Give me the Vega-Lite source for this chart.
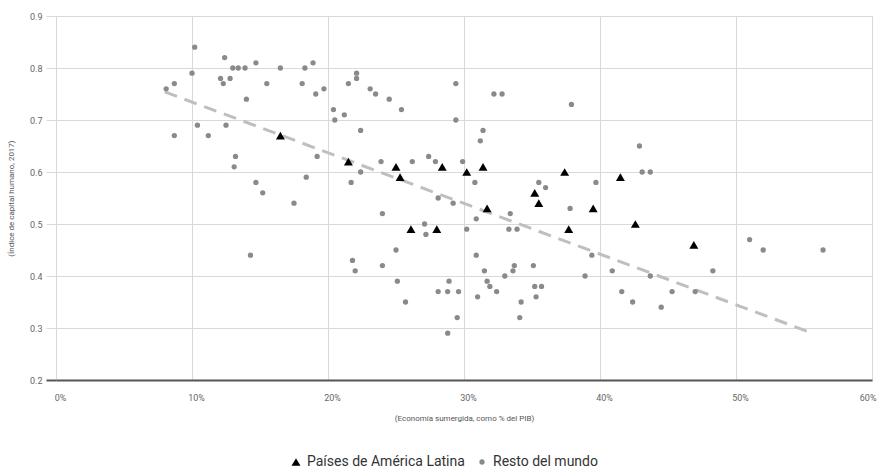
{
  "$schema": "https://vega.github.io/schema/vega-lite/v6.json",
  "width": 816,
  "height": 364,
  "autosize": {"type": "none"},
  "padding": {"left": 56, "top": 16, "right": 5, "bottom": 90},
  "background": "#ffffff",
  "config": {
    "font": "Roboto",
    "view": {"stroke": null},
    "axis": {
      "gridColor": "#d9d9d9",
      "gridWidth": 1,
      "labelFont": "Roboto",
      "labelFontSize": 9,
      "labelColor": "#666666",
      "titleFont": "Roboto",
      "titleFontSize": 8,
      "titleFontWeight": "normal",
      "titleColor": "#555555"
    }
  },
  "datasets": {
    "paises": [
      {"grupo": "Resto del mundo", "economia": 8.1, "capital": 0.76},
      {"grupo": "Resto del mundo", "economia": 8.7, "capital": 0.77},
      {"grupo": "Resto del mundo", "economia": 8.7, "capital": 0.67},
      {"grupo": "Resto del mundo", "economia": 10.2, "capital": 0.84},
      {"grupo": "Resto del mundo", "economia": 10.0, "capital": 0.79},
      {"grupo": "Resto del mundo", "economia": 10.4, "capital": 0.69},
      {"grupo": "Resto del mundo", "economia": 11.2, "capital": 0.67},
      {"grupo": "Resto del mundo", "economia": 12.4, "capital": 0.82},
      {"grupo": "Resto del mundo", "economia": 12.1, "capital": 0.78},
      {"grupo": "Resto del mundo", "economia": 12.3, "capital": 0.77},
      {"grupo": "Resto del mundo", "economia": 12.8, "capital": 0.78},
      {"grupo": "Resto del mundo", "economia": 13.0, "capital": 0.80},
      {"grupo": "Resto del mundo", "economia": 13.4, "capital": 0.80},
      {"grupo": "Resto del mundo", "economia": 13.9, "capital": 0.80},
      {"grupo": "Resto del mundo", "economia": 12.5, "capital": 0.69},
      {"grupo": "Resto del mundo", "economia": 13.2, "capital": 0.63},
      {"grupo": "Resto del mundo", "economia": 13.1, "capital": 0.61},
      {"grupo": "Resto del mundo", "economia": 14.0, "capital": 0.74},
      {"grupo": "Resto del mundo", "economia": 14.7, "capital": 0.81},
      {"grupo": "Resto del mundo", "economia": 14.7, "capital": 0.58},
      {"grupo": "Resto del mundo", "economia": 15.2, "capital": 0.56},
      {"grupo": "Resto del mundo", "economia": 15.5, "capital": 0.77},
      {"grupo": "Resto del mundo", "economia": 16.5, "capital": 0.80},
      {"grupo": "Resto del mundo", "economia": 14.3, "capital": 0.44},
      {"grupo": "Resto del mundo", "economia": 17.5, "capital": 0.54},
      {"grupo": "Resto del mundo", "economia": 18.3, "capital": 0.80},
      {"grupo": "Resto del mundo", "economia": 18.9, "capital": 0.81},
      {"grupo": "Resto del mundo", "economia": 18.1, "capital": 0.77},
      {"grupo": "Resto del mundo", "economia": 19.1, "capital": 0.75},
      {"grupo": "Resto del mundo", "economia": 19.7, "capital": 0.76},
      {"grupo": "Resto del mundo", "economia": 18.4, "capital": 0.59},
      {"grupo": "Resto del mundo", "economia": 19.2, "capital": 0.63},
      {"grupo": "Resto del mundo", "economia": 20.4, "capital": 0.72},
      {"grupo": "Resto del mundo", "economia": 20.5, "capital": 0.70},
      {"grupo": "Resto del mundo", "economia": 21.2, "capital": 0.71},
      {"grupo": "Resto del mundo", "economia": 21.5, "capital": 0.77},
      {"grupo": "Resto del mundo", "economia": 22.1, "capital": 0.79},
      {"grupo": "Resto del mundo", "economia": 22.1, "capital": 0.78},
      {"grupo": "Resto del mundo", "economia": 22.4, "capital": 0.68},
      {"grupo": "Resto del mundo", "economia": 21.7, "capital": 0.58},
      {"grupo": "Resto del mundo", "economia": 22.4, "capital": 0.60},
      {"grupo": "Resto del mundo", "economia": 23.1, "capital": 0.76},
      {"grupo": "Resto del mundo", "economia": 23.5, "capital": 0.75},
      {"grupo": "Resto del mundo", "economia": 24.5, "capital": 0.74},
      {"grupo": "Resto del mundo", "economia": 25.4, "capital": 0.72},
      {"grupo": "Resto del mundo", "economia": 23.9, "capital": 0.62},
      {"grupo": "Resto del mundo", "economia": 26.2, "capital": 0.62},
      {"grupo": "Resto del mundo", "economia": 27.4, "capital": 0.63},
      {"grupo": "Resto del mundo", "economia": 27.9, "capital": 0.62},
      {"grupo": "Resto del mundo", "economia": 28.1, "capital": 0.55},
      {"grupo": "Resto del mundo", "economia": 29.4, "capital": 0.77},
      {"grupo": "Resto del mundo", "economia": 29.4, "capital": 0.70},
      {"grupo": "Resto del mundo", "economia": 29.9, "capital": 0.62},
      {"grupo": "Resto del mundo", "economia": 30.8, "capital": 0.58},
      {"grupo": "Resto del mundo", "economia": 31.2, "capital": 0.66},
      {"grupo": "Resto del mundo", "economia": 31.4, "capital": 0.68},
      {"grupo": "Resto del mundo", "economia": 32.2, "capital": 0.75},
      {"grupo": "Resto del mundo", "economia": 32.8, "capital": 0.75},
      {"grupo": "Resto del mundo", "economia": 35.5, "capital": 0.58},
      {"grupo": "Resto del mundo", "economia": 36.0, "capital": 0.57},
      {"grupo": "Resto del mundo", "economia": 37.9, "capital": 0.73},
      {"grupo": "Resto del mundo", "economia": 42.9, "capital": 0.65},
      {"grupo": "Resto del mundo", "economia": 43.1, "capital": 0.60},
      {"grupo": "Resto del mundo", "economia": 43.7, "capital": 0.60},
      {"grupo": "Resto del mundo", "economia": 39.7, "capital": 0.58},
      {"grupo": "Resto del mundo", "economia": 24.0, "capital": 0.52},
      {"grupo": "Resto del mundo", "economia": 21.8, "capital": 0.43},
      {"grupo": "Resto del mundo", "economia": 22.0, "capital": 0.41},
      {"grupo": "Resto del mundo", "economia": 24.0, "capital": 0.42},
      {"grupo": "Resto del mundo", "economia": 25.0, "capital": 0.45},
      {"grupo": "Resto del mundo", "economia": 25.1, "capital": 0.39},
      {"grupo": "Resto del mundo", "economia": 25.7, "capital": 0.35},
      {"grupo": "Resto del mundo", "economia": 27.1, "capital": 0.50},
      {"grupo": "Resto del mundo", "economia": 27.2, "capital": 0.48},
      {"grupo": "Resto del mundo", "economia": 29.2, "capital": 0.54},
      {"grupo": "Resto del mundo", "economia": 28.1, "capital": 0.37},
      {"grupo": "Resto del mundo", "economia": 28.8, "capital": 0.37},
      {"grupo": "Resto del mundo", "economia": 28.9, "capital": 0.39},
      {"grupo": "Resto del mundo", "economia": 29.6, "capital": 0.37},
      {"grupo": "Resto del mundo", "economia": 28.8, "capital": 0.29},
      {"grupo": "Resto del mundo", "economia": 29.5, "capital": 0.32},
      {"grupo": "Resto del mundo", "economia": 30.9, "capital": 0.51},
      {"grupo": "Resto del mundo", "economia": 30.2, "capital": 0.49},
      {"grupo": "Resto del mundo", "economia": 30.9, "capital": 0.44},
      {"grupo": "Resto del mundo", "economia": 31.0, "capital": 0.36},
      {"grupo": "Resto del mundo", "economia": 31.5, "capital": 0.41},
      {"grupo": "Resto del mundo", "economia": 31.7, "capital": 0.39},
      {"grupo": "Resto del mundo", "economia": 31.9, "capital": 0.38},
      {"grupo": "Resto del mundo", "economia": 32.4, "capital": 0.37},
      {"grupo": "Resto del mundo", "economia": 33.4, "capital": 0.52},
      {"grupo": "Resto del mundo", "economia": 33.3, "capital": 0.49},
      {"grupo": "Resto del mundo", "economia": 33.9, "capital": 0.49},
      {"grupo": "Resto del mundo", "economia": 33.0, "capital": 0.40},
      {"grupo": "Resto del mundo", "economia": 33.6, "capital": 0.41},
      {"grupo": "Resto del mundo", "economia": 33.7, "capital": 0.42},
      {"grupo": "Resto del mundo", "economia": 34.2, "capital": 0.35},
      {"grupo": "Resto del mundo", "economia": 34.1, "capital": 0.32},
      {"grupo": "Resto del mundo", "economia": 35.1, "capital": 0.42},
      {"grupo": "Resto del mundo", "economia": 35.2, "capital": 0.38},
      {"grupo": "Resto del mundo", "economia": 35.3, "capital": 0.36},
      {"grupo": "Resto del mundo", "economia": 35.7, "capital": 0.38},
      {"grupo": "Resto del mundo", "economia": 37.8, "capital": 0.53},
      {"grupo": "Resto del mundo", "economia": 39.4, "capital": 0.44},
      {"grupo": "Resto del mundo", "economia": 38.9, "capital": 0.40},
      {"grupo": "Resto del mundo", "economia": 40.9, "capital": 0.41},
      {"grupo": "Resto del mundo", "economia": 41.6, "capital": 0.37},
      {"grupo": "Resto del mundo", "economia": 42.4, "capital": 0.35},
      {"grupo": "Resto del mundo", "economia": 43.7, "capital": 0.40},
      {"grupo": "Resto del mundo", "economia": 44.5, "capital": 0.34},
      {"grupo": "Resto del mundo", "economia": 45.3, "capital": 0.37},
      {"grupo": "Resto del mundo", "economia": 47.0, "capital": 0.37},
      {"grupo": "Resto del mundo", "economia": 48.3, "capital": 0.41},
      {"grupo": "Resto del mundo", "economia": 51.0, "capital": 0.47},
      {"grupo": "Resto del mundo", "economia": 52.0, "capital": 0.45},
      {"grupo": "Resto del mundo", "economia": 56.4, "capital": 0.45},
      {"grupo": "Países de América Latina", "economia": 16.5, "capital": 0.67},
      {"grupo": "Países de América Latina", "economia": 21.5, "capital": 0.62},
      {"grupo": "Países de América Latina", "economia": 25.0, "capital": 0.61},
      {"grupo": "Países de América Latina", "economia": 25.3, "capital": 0.59},
      {"grupo": "Países de América Latina", "economia": 26.1, "capital": 0.49},
      {"grupo": "Países de América Latina", "economia": 28.0, "capital": 0.49},
      {"grupo": "Países de América Latina", "economia": 28.4, "capital": 0.61},
      {"grupo": "Países de América Latina", "economia": 30.2, "capital": 0.60},
      {"grupo": "Países de América Latina", "economia": 31.4, "capital": 0.61},
      {"grupo": "Países de América Latina", "economia": 31.7, "capital": 0.53},
      {"grupo": "Países de América Latina", "economia": 35.2, "capital": 0.56},
      {"grupo": "Países de América Latina", "economia": 35.5, "capital": 0.54},
      {"grupo": "Países de América Latina", "economia": 37.4, "capital": 0.60},
      {"grupo": "Países de América Latina", "economia": 37.7, "capital": 0.49},
      {"grupo": "Países de América Latina", "economia": 39.5, "capital": 0.53},
      {"grupo": "Países de América Latina", "economia": 41.5, "capital": 0.59},
      {"grupo": "Países de América Latina", "economia": 42.6, "capital": 0.50},
      {"grupo": "Países de América Latina", "economia": 46.9, "capital": 0.46}
    ],
    "tendencia": [
      {"economia": 8.0, "capital": 0.754},
      {"economia": 55.2, "capital": 0.294}
    ]
  },
  "layer": [
    {
      "data": {"name": "tendencia"},
      "mark": {"type": "line", "color": "#bfbfbf", "strokeWidth": 3, "strokeDash": [13, 8]},
      "encoding": {
        "x": {
          "field": "economia",
          "type": "quantitative",
          "scale": {"domain": [0, 60], "nice": false, "zero": false},
          "axis": {
            "values": [0, 10, 20, 30, 40, 50, 60],
            "labelExpr": "datum.value + '%'",
            "title": "(Economía sumergida, como % del PIB)",
            "grid": true,
            "ticks": false,
            "domain": true,
            "domainColor": "#555555",
            "domainWidth": 2,
            "labelFlush": false,
            "labelAlign": {"condition": {"test": "datum.value == 60", "value": "right"}, "value": "center"},
            "labelPadding": 13,
            "labelOffset": 4,
            "titlePadding": 12
          }
        },
        "y": {
          "field": "capital",
          "type": "quantitative",
          "scale": {"domain": [0.2, 0.9], "nice": false, "zero": false},
          "axis": {
            "values": [0.2, 0.3, 0.4, 0.5, 0.6, 0.7, 0.8, 0.9],
            "format": ".1f",
            "title": "(Índice de capital humano, 2017)",
            "grid": true,
            "domain": false,
            "ticks": true,
            "tickSize": 10,
            "tickColor": {"condition": {"test": "datum.value == 0.2", "value": "#555555"}, "value": "#d9d9d9"},
            "tickWidth": {"condition": {"test": "datum.value == 0.2", "value": 2}, "value": 1},
            "labelPadding": 4,
            "titlePadding": 14
          }
        }
      }
    },
    {
      "data": {"name": "paises"},
      "mark": {"type": "point", "filled": true, "opacity": 1, "strokeWidth": 0},
      "encoding": {
        "x": {"field": "economia", "type": "quantitative"},
        "y": {"field": "capital", "type": "quantitative"},
        "shape": {
          "field": "grupo",
          "type": "nominal",
          "scale": {"domain": ["Países de América Latina", "Resto del mundo"], "range": ["triangle-up", "circle"]},
          "legend": {
            "title": null,
            "orient": "none",
            "direction": "horizontal",
            "legendX": 233,
            "legendY": 439,
            "labelFont": "Roboto",
            "labelFontSize": 14,
            "labelColor": "#333333",
            "labelOffset": 4,
            "columnPadding": 10,
            "padding": 0
          }
        },
        "color": {
          "field": "grupo",
          "type": "nominal",
          "scale": {"domain": ["Países de América Latina", "Resto del mundo"], "range": ["#000000", "#8a8a8a"]},
          "legend": {
            "title": null,
            "orient": "none",
            "direction": "horizontal",
            "legendX": 233,
            "legendY": 439,
            "labelFont": "Roboto",
            "labelFontSize": 14,
            "labelColor": "#333333",
            "labelOffset": 4,
            "columnPadding": 10,
            "padding": 0
          }
        },
        "size": {
          "field": "grupo",
          "type": "nominal",
          "scale": {"domain": ["Países de América Latina", "Resto del mundo"], "range": [80, 28]},
          "legend": {
            "title": null,
            "orient": "none",
            "direction": "horizontal",
            "legendX": 233,
            "legendY": 439,
            "labelFont": "Roboto",
            "labelFontSize": 14,
            "labelColor": "#333333",
            "labelOffset": 4,
            "columnPadding": 10,
            "padding": 0
          }
        }
      }
    }
  ]
}
